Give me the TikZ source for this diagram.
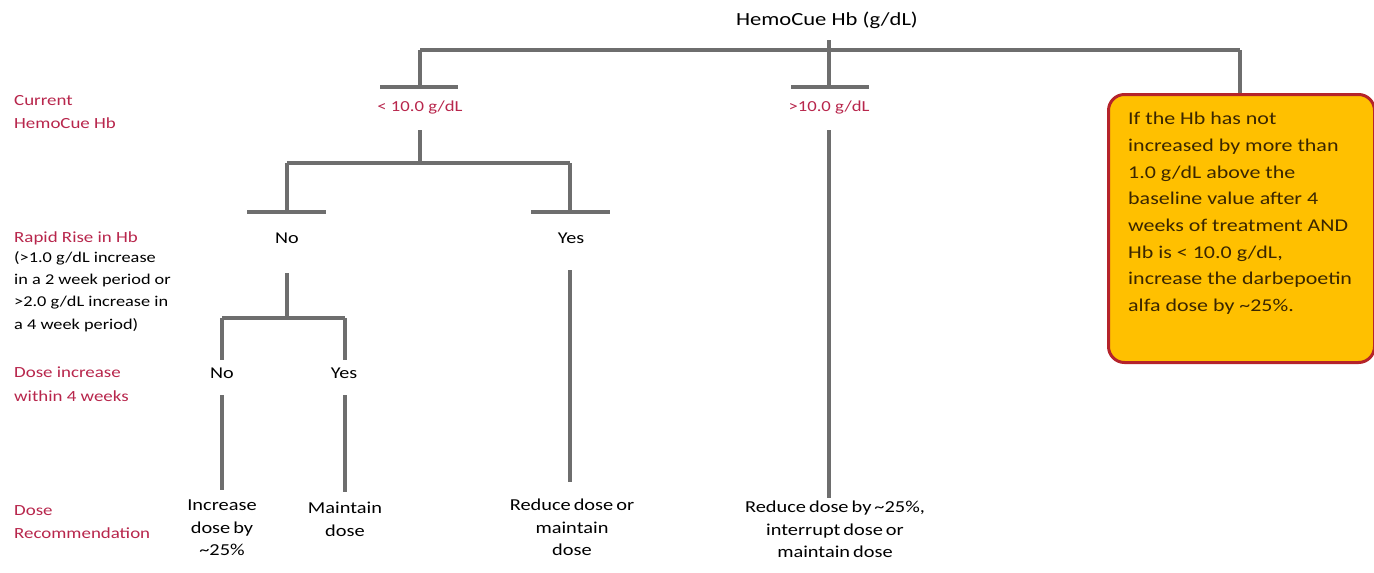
\documentclass[tikz,border=0pt]{standalone}
\usepackage{fontspec}
\setmainfont{Carlito}[FakeStretch=1.22]
\definecolor{lineg}{HTML}{6E6E6E}
\definecolor{lblred}{HTML}{B8264C}
\definecolor{boxfill}{HTML}{FFC000}
\definecolor{boxedge}{HTML}{B5232A}
\definecolor{boxtext}{HTML}{3A2600}
\newcommand{\recfont}{\fontsize{16.7}{22.5}\selectfont\spaceskip=0.18em plus 0.05em\relax}
\begin{document}
\begin{tikzpicture}[x=1pt,y=-1pt,
  conn/.style={draw=lineg,line width=3.2pt},
  lbl/.style={inner sep=0pt,font=\fontsize{16.5}{22.5}\selectfont,align=center},
  rec/.style={lbl,font=\recfont,anchor=north},
  redlbl/.style={lbl,text=lblred,font=\fontsize{15.3}{18}\selectfont},
  side/.style={inner sep=0pt,anchor=west,align=left,font=\fontsize{15.5}{23.5}\selectfont,text=lblred},
  sideb/.style={side,text=black,font=\fontsize{15}{22.4}\selectfont}]
\useasboundingbox (0,0) rectangle (1374,573);
\fill[white] (0,0) rectangle (1374,573);
% title
\node[lbl,font=\fontsize{18.5}{22}\selectfont] (title) at (827,20) {HemoCue Hb (g/dL)};
% junctions
\coordinate (tM) at (829,40);
\coordinate (hL) at (420,50);
\coordinate (hM) at (829,50);
\coordinate (hR) at (1240,50);
\coordinate (bL) at (420,87);
\coordinate (bM) at (829,87);
\draw[conn] (hL) -- (hR);
\draw[conn] (tM) -- (bM);
\draw[conn] (hL) -- (bL);
\draw[conn] ([xshift=-40]bL) -- ([xshift=38]bL);
\draw[conn] ([xshift=-38]bM) -- ([xshift=40]bM);
% level 1 labels
\node[redlbl] (lt) at (420,108) {< 10.0 g/dL};
\node[redlbl] (gt) at (829,108) {>10.0 g/dL};
% box
\node[draw=boxedge,line width=3pt,fill=boxfill,rounded corners=16pt,minimum width=266pt,minimum height=268pt,anchor=north west,inner sep=0pt] (box) at (1107,93) {};
\draw[conn] (hR) -- (box.north -| hR);
\node[anchor=north west,align=left,text=boxtext,inner sep=0pt,font=\fontsize{18}{26.7}\selectfont] (boxtxt) at (1128,112) {If the Hb has not\\increased by more than\\1.0 g/dL above the\\baseline value after 4\\weeks of treatment AND\\Hb is < 10.0 g/dL,\\increase the darbepoetin\\alfa dose by \textasciitilde 25\%.};
% rapid rise split
\coordinate (j2) at (420,163);
\coordinate (j2L) at (287,163);
\coordinate (j2R) at (570,163);
\coordinate (b2L) at (287,212);
\coordinate (b2R) at (570,212);
\draw[conn] (lt.south |- 0,130) -- (j2);
\draw[conn] (j2L) -- (j2R);
\draw[conn] (j2L) -- (b2L);
\draw[conn] (j2R) -- (b2R);
\draw[conn] ([xshift=-40]b2L) -- ([xshift=39]b2L);
\draw[conn] ([xshift=-39]b2R) -- ([xshift=40]b2R);
\node[lbl] (no1) at (287,238) {No};
\node[lbl] (yes1) at (571,238) {Yes};
% dose increase split
\coordinate (n1t) at (287,273);
\coordinate (j3) at (287,318);
\coordinate (j3L) at (222,318);
\coordinate (j3R) at (345,318);
\draw[conn] (n1t) -- (j3);
\draw[conn] (j3L) -- (j3R);
\draw[conn] (j3L) -- (222,360);
\draw[conn] (j3R) -- (345,360);
\node[lbl] (no2) at (222,373) {No};
\node[lbl] (yes2) at (344,373) {Yes};
% recommendations
\node[rec] (inc) at (222,500) {Increase\\dose by\\\textasciitilde 25\%};
\node[rec] (mnt) at (345,502) {Maintain\\dose};
\node[rec] (red1) at (572,499) {Reduce dose or\\maintain\\dose};
\node[rec] (red2) at (835,501) {Reduce dose by \textasciitilde 25\%,\\interrupt dose or\\maintain dose};
\draw[conn] (222,395) -- (222,490);
\draw[conn] (345,395) -- (345,492);
\draw[conn] (570,270) -- (570,482);
\draw[conn] (829,130) -- (829,498);
% side labels
\node[side] (s1) at (14,112) {Current\\HemoCue Hb};
\node[side] (s2) at (14,238) {Rapid Rise in Hb};
\node[sideb,anchor=north west] (s2b) at (14,251) {(>1.0 g/dL increase\\in a 2 week period or\\>2.0 g/dL increase in\\a 4 week period)};
\node[side] (s3) at (14,384) {Dose increase\\within 4 weeks};
\node[side] (s4) at (14,522) {Dose\\Recommendation};
\end{tikzpicture}
\end{document}
